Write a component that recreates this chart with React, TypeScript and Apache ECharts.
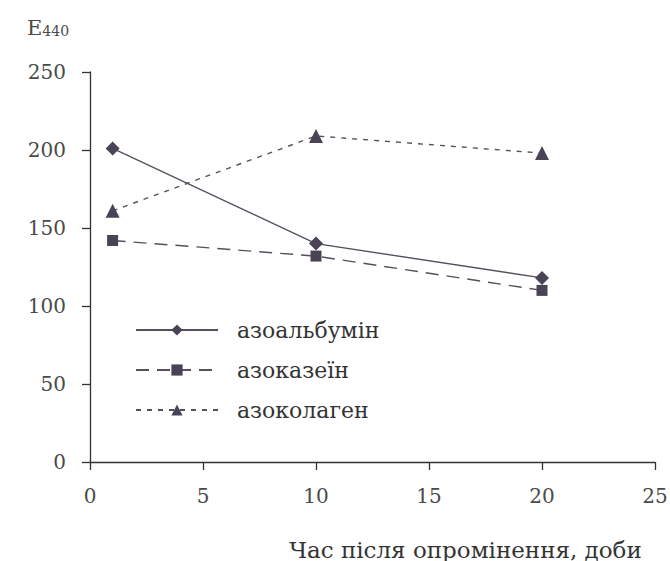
import React, { useEffect, useRef } from "react";
import * as echarts from "echarts";

const days = [1, 10, 20];
const azoalbumin = [201, 140, 118];
const azocasein = [142, 132, 110];
const azocollagen = [161, 209, 198];
const seriesNames = ["азоальбумін", "азоказеїн", "азоколаген"];
const xTitle = "Час після опромінення, доби";

const FONT = "DejaVu Serif, Liberation Serif, serif";
const INK = "#4a4356";
const LINE = "#55505c";
const TXT = "#4a4a4a";

const pairs = (ys: number[]) => days.map((d, i) => [d, ys[i]]);

export default function App() {
  const ref = useRef<HTMLDivElement>(null);
  useEffect(() => {
    if (!ref.current) return;
    const chart = echarts.init(ref.current, undefined, { renderer: "svg" });
    chart.setOption({
      animation: false,
      backgroundColor: "#ffffff",
      textStyle: { fontFamily: FONT },
      grid: { left: 90, right: 15, top: 72, bottom: 99, containLabel: false, outerBoundsMode: "none" },
      xAxis: {
        type: "value",
        min: 0,
        max: 25,
        interval: 5,
        name: xTitle,
        nameLocation: "middle",
        nameGap: 76,
        nameTextStyle: { fontFamily: FONT, fontSize: 23, color: "#333", padding: [0, 0, 0, 186] },
        axisLine: { show: true, lineStyle: { color: "#333", width: 1.3 } },
        axisTick: { show: true, inside: false, length: 8, lineStyle: { color: "#333", width: 1.3 } },
        axisLabel: { fontFamily: FONT, fontSize: 20, color: TXT, margin: 24 },
        splitLine: { show: false },
      },
      yAxis: {
        type: "value",
        min: 0,
        max: 250,
        interval: 50,
        axisLine: { show: true, lineStyle: { color: "#333", width: 1.3 } },
        axisTick: { show: true, inside: false, length: 8, lineStyle: { color: "#333", width: 1.3 } },
        axisLabel: { fontFamily: FONT, fontSize: 20, color: TXT, margin: 24 },
        splitLine: { show: false },
      },
      legend: {
        left: 135,
        top: 319,
        padding: 0,
        orient: "vertical",
        itemWidth: 82,
        itemHeight: 14,
        itemGap: 18,
        data: seriesNames,
        textStyle: { fontFamily: FONT, fontSize: 22, color: "#333", lineHeight: 22, padding: [0, 0, 0, 14] },
      },
      graphic: [
        {
          type: "text",
          left: 27,
          top: 17,
          style: {
            text: "{a|E}{b|440}",
            rich: {
              a: { fontFamily: FONT, fontSize: 21, fill: TXT, verticalAlign: "bottom" },
              b: { fontFamily: FONT, fontSize: 14, fill: TXT, verticalAlign: "bottom", padding: [9, 0, 0, 0] },
            },
          },
        },
      ],
      series: [
        {
          name: seriesNames[0],
          type: "line",
          data: pairs(azoalbumin),
          symbol: "diamond",
          symbolSize: 14,
          itemStyle: { color: INK },
          lineStyle: { color: LINE, width: 1.4, type: "solid" },
        },
        {
          name: seriesNames[1],
          type: "line",
          data: pairs(azocasein),
          symbol: "rect",
          symbolSize: 11,
          itemStyle: { color: INK },
          lineStyle: { color: LINE, width: 1.4, type: [13, 8] },
        },
        {
          name: seriesNames[2],
          type: "line",
          data: pairs(azocollagen),
          symbol: "triangle",
          symbolSize: 14,
          itemStyle: { color: INK },
          lineStyle: { color: LINE, width: 1.4, type: [5, 6] },
        },
      ],
    });
    return () => chart.dispose();
  }, []);
  return (
    <div
      ref={ref}
      style={{ position: "fixed", left: 0, top: 0, width: 670, height: 561 }}
    />
  );
}
